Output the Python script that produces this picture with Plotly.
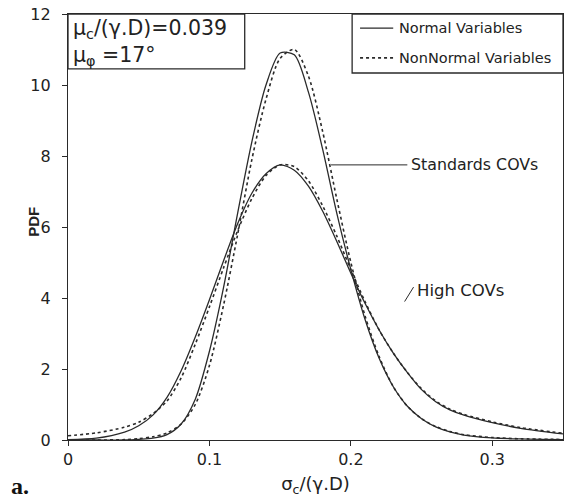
import plotly.graph_objects as go

# sigma_c/(gamma.D) sample points shared by all curves
x_vals = [0, 0.02, 0.04, 0.05, 0.06, 0.07, 0.08, 0.09, 0.10, 0.11, 0.12, 0.13, 0.14,
          0.15, 0.16, 0.17, 0.18, 0.19, 0.20, 0.21, 0.22, 0.23, 0.24, 0.25, 0.26,
          0.27, 0.28, 0.30, 0.32, 0.35]

# PDF values, standard COVs
std_normal = [0, 0, 0.0, 0.02, 0.05, 0.15, 0.45, 1.15, 2.5, 4.3, 6.4, 8.4, 10.0,
              10.9, 10.85, 9.8, 8.2, 6.4, 4.8, 3.4, 2.3, 1.5, 0.95, 0.6, 0.37,
              0.23, 0.14, 0.06, 0.03, 0.01]
std_nonnormal = [0, 0, 0.01, 0.04, 0.09, 0.2, 0.45, 1.0, 2.1, 3.8, 5.8, 7.9, 9.6,
                 10.75, 11.0, 10.25, 8.7, 6.8, 5.0, 3.5, 2.35, 1.5, 0.95, 0.6, 0.38,
                 0.24, 0.15, 0.07, 0.035, 0.015]

# PDF values, high COVs
high_normal = [0.01, 0.05, 0.22, 0.4, 0.7, 1.2, 1.95, 2.9, 3.95, 5.05, 6.1, 6.95, 7.5,
               7.75, 7.6, 7.15, 6.45, 5.6, 4.7, 3.85, 3.1, 2.45, 1.9, 1.42, 1.08,
               0.85, 0.7, 0.49, 0.33, 0.17]
high_nonnormal = [0.12, 0.2, 0.36, 0.5, 0.74, 1.1, 1.75, 2.7, 3.75, 4.85, 5.9, 6.8, 7.45,
                  7.75, 7.7, 7.3, 6.6, 5.75, 4.8, 3.9, 3.1, 2.45, 1.9, 1.44, 1.1,
                  0.87, 0.72, 0.51, 0.35, 0.19]

x_ticks = [0, 0.1, 0.2, 0.3]
x_tick_text = ["0", "0.1", "0.2", "0.3"]
y_ticks = [0, 2, 4, 6, 8, 10, 12]

INK = "#2a2a2a"
TXT = "#222"
FONT = "DejaVu Sans"
solid = dict(color=INK, width=1.3, shape="spline", smoothing=0.8)
dotted = dict(color=INK, width=1.6, dash="dot", shape="spline", smoothing=0.8)

fig = go.Figure()
fig.add_trace(go.Scatter(x=x_vals, y=std_normal, mode="lines", line=solid))
fig.add_trace(go.Scatter(x=x_vals, y=std_nonnormal, mode="lines", line=dotted))
fig.add_trace(go.Scatter(x=x_vals, y=high_normal, mode="lines", line=solid))
fig.add_trace(go.Scatter(x=x_vals, y=high_nonnormal, mode="lines", line=dotted))

axis_common = dict(showline=True, linecolor=INK, linewidth=1.3, mirror=True,
                   ticks="outside", ticklen=5, tickcolor=INK, tickwidth=1,
                   showgrid=False, zeroline=False,
                   tickfont=dict(family=FONT, size=16, color=TXT))

fig.update_xaxes(range=[0, 0.35], tickvals=x_ticks, ticktext=x_tick_text,
                 title=dict(text="σ<sub>c</sub>/(γ.D)", standoff=9,
                            font=dict(family=FONT, size=18, color=TXT)),
                 **axis_common)
fig.update_yaxes(range=[0, 12], tickvals=y_ticks, ticklabelstandoff=8, **axis_common)

# y-axis title
fig.add_annotation(xref="paper", yref="paper", x=-0.09, y=0.512, textangle=-90,
                   showarrow=False, text="<b>PDF</b>",
                   font=dict(family="Arial", size=15, color=TXT))

# parameter box in the top-left corner
fig.add_shape(type="rect", xref="paper", yref="paper", x0=0, x1=0.357, y0=0.871, y1=1,
              line=dict(color=INK, width=1.3), fillcolor="white")
fig.add_annotation(xref="paper", yref="paper", x=0.006, y=0.999, xanchor="left",
                   yanchor="top", align="left", showarrow=False,
                   text="μ<sub>c</sub>/(γ.D)=0.039<br>μ<sub>φ</sub> =17°",
                   font=dict(family=FONT, size=20.5, color=TXT))

# legend drawn as a framed key
fig.add_shape(type="rect", xref="paper", yref="paper", x0=0.574, x1=1.0, y0=0.8615, y1=1,
              line=dict(color=INK, width=1.3), fillcolor="white")
legend_rows = [("Normal Variables", 0.967, "solid"), ("NonNormal Variables", 0.897, "dot")]
for label, yy, dash in legend_rows:
    fig.add_shape(type="line", xref="paper", yref="paper", x0=0.590, x1=0.657, y0=yy, y1=yy,
                  line=dict(color=INK, width=1.3 if dash == "solid" else 1.6, dash=dash))
    fig.add_annotation(xref="paper", yref="paper", x=0.665, y=yy, xanchor="left",
                       yanchor="middle", showarrow=False, text=label,
                       font=dict(family=FONT, size=14.5, color=TXT))

# curve labels
fig.add_annotation(x=0.186, y=7.75, ax=0.241, ay=7.75, axref="x", ayref="y",
                   showarrow=True, arrowhead=0, arrowwidth=1, arrowcolor=INK,
                   text="", standoff=0)
fig.add_annotation(x=0.241, y=7.75, xanchor="left", showarrow=False,
                   text="Standards COVs", font=dict(family=FONT, size=15.8, color=TXT))
fig.add_annotation(x=0.238, y=3.9, ax=0.245, ay=4.35, axref="x", ayref="y",
                   showarrow=True, arrowhead=0, arrowwidth=1, arrowcolor=INK,
                   text="", standoff=0)
fig.add_annotation(x=0.245, y=4.2, xanchor="left", showarrow=False,
                   text="High COVs", font=dict(family=FONT, size=16.5, color=TXT))

# panel letter
fig.add_annotation(xref="paper", yref="paper", x=-0.119, y=-0.108, xanchor="left",
                   yanchor="middle", showarrow=False, text="<b>a.</b>",
                   font=dict(family="Liberation Serif", size=24, color="#111"))

fig.update_layout(
    width=566, height=502,
    margin=dict(l=68, r=3, t=14, b=62),
    paper_bgcolor="white", plot_bgcolor="white",
    showlegend=False,
)

fig.write_html("out.html")
